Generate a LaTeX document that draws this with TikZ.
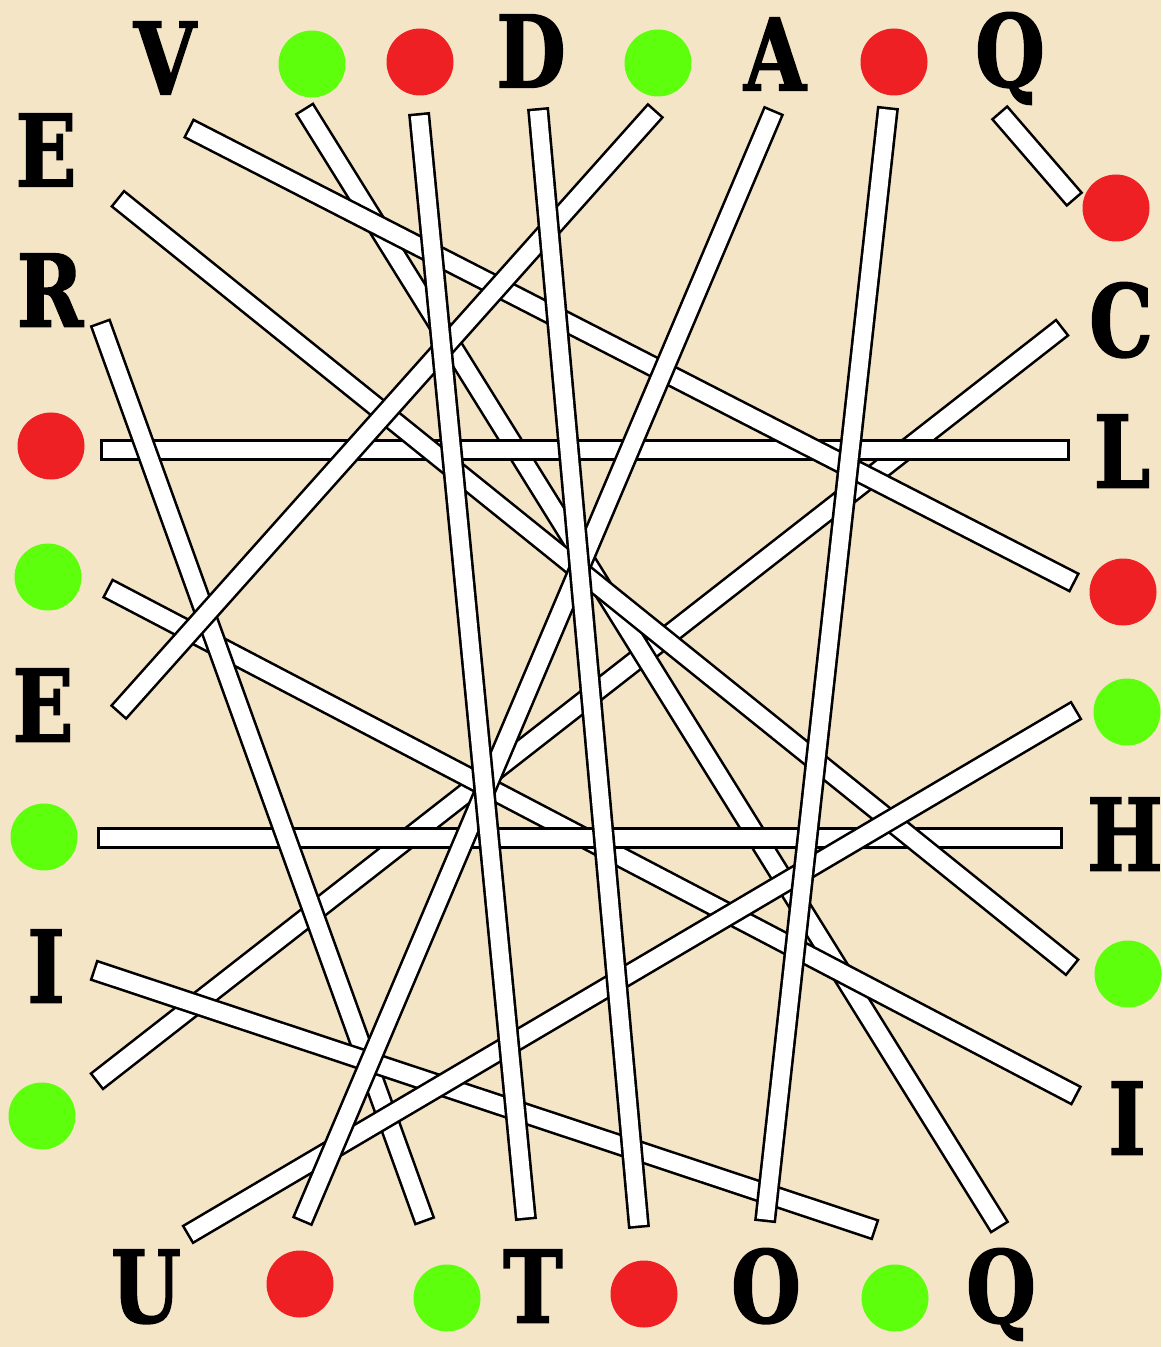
\documentclass[tikz,border=0pt]{standalone}
\usepackage{fontspec}
\newfontfamily\westfont{DejaVu Serif}[FakeStretch=0.8, BoldFeatures={FakeBold=1.5}]
\usepackage{xcolor}
\usepackage{tikz}
\usetikzlibrary{positioning}
\definecolor{parchment}{RGB}{245,229,199}
\definecolor{dotred}{RGB}{238,32,36}
\definecolor{dotgreen}{RGB}{94,255,12}

\begin{document}
\begin{tikzpicture}[
    x=0.5pt, y=-0.5pt,
    letter/.style={inner sep=0pt, text height=36.5pt, text depth=0pt,
                   font=\westfont\bfseries\fontsize{50}{50}\selectfont},
    dot/.style={circle, inner sep=0pt, minimum size=33.5pt},
    reddot/.style={dot, fill=dotred},
    greendot/.style={dot, fill=dotgreen},
    stick/.style={draw=black, line width=11pt,
                  postaction={draw=white, line width=8.4pt,
                              shorten <=1.3pt, shorten >=1.3pt}},
]
    \fill[parchment] (0,0) rectangle (1161,1347);

    % top row
    \node[letter]   (t1) at (165,58)  {V};
    \node[greendot] (t2) at (312,64)  {};
    \node[reddot]   (t3) at (420,62)  {};
    \node[letter]   (t4) at (531,51)  {D};
    \node[greendot] (t5) at (658,63)  {};
    \node[letter]   (t6) at (775,54)  {A};
    \node[reddot]   (t7) at (894,62)  {};
    \node[letter]   (t8) at (1010,50) {Q};

    % left column
    \node[letter]   (l1) at (46,150)  {E};
    \node[letter]   (l2) at (50,290)  {R};
    \node[reddot]   (l3) at (51,446)  {};
    \node[greendot] (l4) at (48,577)  {};
    \node[letter]   (l5) at (43,705)  {E};
    \node[greendot] (l6) at (44,837)  {};
    \node[letter]   (l7) at (46,966)  {I};
    \node[greendot] (l8) at (42,1116) {};

    % right column
    \node[reddot]   (r1) at (1116,208) {};
    \node[letter]   (r2) at (1121,320) {C};
    \node[letter]   (r3) at (1122,451) {L};
    \node[reddot]   (r4) at (1123,592) {};
    \node[greendot] (r5) at (1127,712) {};
    \node[letter]   (r6) at (1125,834) {H};
    \node[greendot] (r7) at (1128,974) {};
    \node[letter]   (r8) at (1127,1118) {I};

    % bottom row
    \node[letter]   (b1) at (146,1286) {U};
    \node[reddot]   (b2) at (300,1284) {};
    \node[greendot] (b3) at (447,1298) {};
    \node[letter]   (b4) at (533,1286) {T};
    \node[reddot]   (b5) at (644,1294) {};
    \node[letter]   (b6) at (766,1286) {O};
    \node[greendot] (b7) at (895,1298) {};
    \node[letter]   (b8) at (1001,1286) {Q};

    % stick ends, named after the item beside them
    \coordinate (t1s) at (188,128);   \coordinate (r4s) at (1075,583);
    \coordinate (t2s) at (304,108);   \coordinate (b8s) at (1000,1228);
    \coordinate (t3s) at (419,113);   \coordinate (b4s) at (526,1220);
    \coordinate (t4s) at (538,108);   \coordinate (b5s) at (639,1228);
    \coordinate (t5s) at (656,110);   \coordinate (l5s) at (118,713);
    \coordinate (t6s) at (774,110);   \coordinate (b2s) at (302,1222);
    \coordinate (t7s) at (888,107);   \coordinate (b6s) at (765,1222);
    \coordinate (t8s) at (999,112);   \coordinate (r1s) at (1075,200);
    \coordinate (l1s) at (117,198);   \coordinate (r7s) at (1073,968);
    \coordinate (l2s) at (100,322);   \coordinate (b3s) at (425,1222);
    \coordinate (l3s) at (100,450);   \coordinate (r3s) at (1070,450);
    \coordinate (l4s) at (107,588);   \coordinate (r8s) at (1077,1096);
    \coordinate (r2s) at (1063,327);  \coordinate (l8s) at (96,1082);
    \coordinate (r5s) at (1077,710);  \coordinate (b1s) at (187,1235);
    \coordinate (l6s) at (97,838);    \coordinate (r6s) at (1063,838);
    \coordinate (l7s) at (93,970);    \coordinate (b7s) at (876,1230);

    % sticks, lower ones first
    \draw[stick] (r2s) -- (l8s);
    \draw[stick] (t2s) -- (b8s);
    \draw[stick] (l4s) -- (r8s);
    \draw[stick] (l3s) -- (r3s);
    \draw[stick] (l6s) -- (r6s);
    \draw[stick] (l2s) -- (b3s);
    \draw[stick] (l7s) -- (b7s);
    \draw[stick] (l1s) -- (r7s);
    \draw[stick] (t1s) -- (r4s);
    \draw[stick] (r5s) -- (b1s);
    \draw[stick] (t6s) -- (b2s);
    \draw[stick] (t5s) -- (l5s);
    \draw[stick] (t3s) -- (b4s);
    \draw[stick] (t4s) -- (b5s);
    \draw[stick] (t7s) -- (b6s);
    \draw[stick] (t8s) -- (r1s);
\end{tikzpicture}
\end{document}
